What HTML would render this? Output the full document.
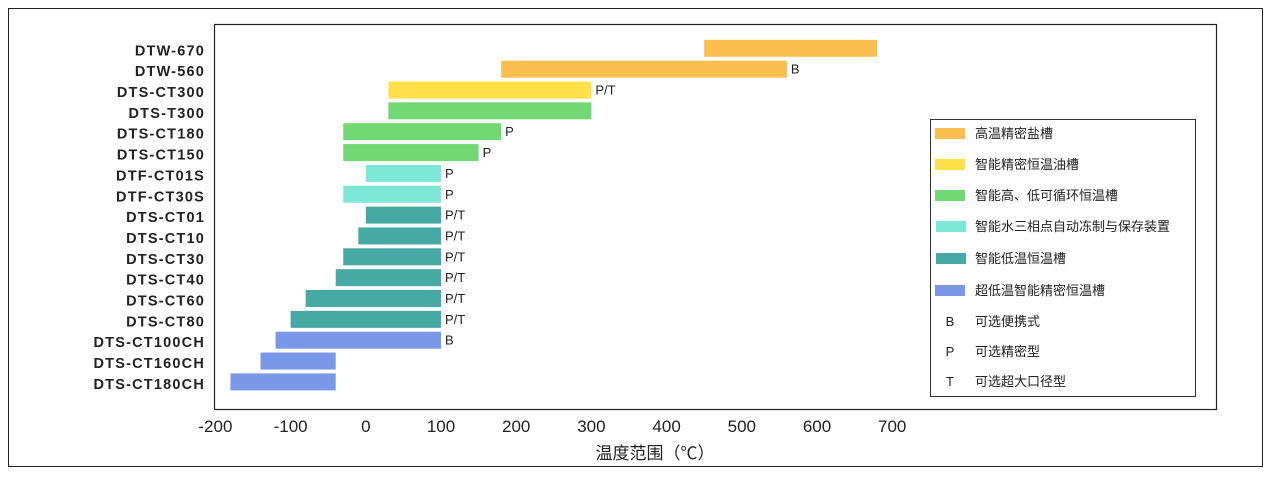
<!DOCTYPE html>
<html><head><meta charset="utf-8"><style>
body{margin:0;background:#fff;}
text{font-family:"Liberation Sans","Noto Sans CJK SC",sans-serif;}
</style></head><body>
<svg width="1271" height="475" xmlns="http://www.w3.org/2000/svg">
<rect x="8.5" y="8.5" width="1254" height="458" fill="none" stroke="#222" stroke-width="1"/>
<rect x="214.5" y="24.5" width="1002" height="385" fill="none" stroke="#222" stroke-width="1.2"/>
<g id="bars"></g>
<g font-size="14.5" font-weight="bold" fill="#222" text-anchor="end" letter-spacing="1.2" id="ylab"></g>
<g font-size="13" fill="#222" id="anno"></g>
<g font-size="17" fill="#222" text-anchor="middle" id="xt"></g>
<text x="655" y="459" font-size="17" text-anchor="middle" fill="#222">温度范围（℃）</text>
<rect x="930.5" y="119.5" width="265" height="277" fill="none" stroke="#333" stroke-width="1"/>
<g font-size="13" fill="#222">
<rect x="935" y="128" width="30" height="11" fill="#fbbf4f"/><text x="975" y="138">高温精密盐槽</text>
<rect x="935" y="159" width="30" height="11" fill="#fde04a"/><text x="975" y="169">智能精密恒温油槽</text>
<rect x="935" y="190" width="30" height="11" fill="#72d873"/><text x="975" y="200">智能高、低可循环恒温槽</text>
<rect x="936" y="221" width="30" height="11" fill="#7de8d8"/><text x="975" y="231">智能水三相点自动冻制与保存装置</text>
<rect x="936" y="253" width="30" height="11" fill="#46a9a4"/><text x="975" y="263">智能低温恒温槽</text>
<rect x="935" y="285" width="30" height="11" fill="#7b98e8"/><text x="975" y="295">超低温智能精密恒温槽</text>
<text x="950" y="326" text-anchor="middle">B</text><text x="975" y="326">可选便携式</text>
<text x="950" y="356" text-anchor="middle">P</text><text x="975" y="356">可选精密型</text>
<text x="950" y="386" text-anchor="middle">T</text><text x="975" y="386">可选超大口径型</text>
</g>
</svg>
<script>
const d=[["DTW-670",450,680,"#fbbf4f",""],["DTW-560",180,560,"#fbbf4f","B"],["DTS-CT300",30,300,"#fde04a","P/T"],["DTS-T300",30,300,"#72d873",""],["DTS-CT180",-30,180,"#72d873","P"],["DTS-CT150",-30,150,"#72d873","P"],["DTF-CT01S",0,100,"#7de8d8","P"],["DTF-CT30S",-30,100,"#7de8d8","P"],["DTS-CT01",0,100,"#46a9a4","P/T"],["DTS-CT10",-10,100,"#46a9a4","P/T"],["DTS-CT30",-30,100,"#46a9a4","P/T"],["DTS-CT40",-40,100,"#46a9a4","P/T"],["DTS-CT60",-80,100,"#46a9a4","P/T"],["DTS-CT80",-100,100,"#46a9a4","P/T"],["DTS-CT100CH",-120,100,"#7b98e8","B"],["DTS-CT160CH",-140,-40,"#7b98e8",""],["DTS-CT180CH",-180,-40,"#7b98e8",""]];
const X=v=>365.8+0.752*v,ns="http://www.w3.org/2000/svg";
function el(p,t,a,txt){const e=document.createElementNS(ns,t);for(const k in a)e.setAttribute(k,a[k]);if(txt)e.textContent=txt;document.getElementById(p).appendChild(e);}
d.forEach((r,i)=>{const c=48.3+i*20.85;
el("bars","rect",{x:X(r[1]),y:c-8.5,width:X(r[2])-X(r[1]),height:17,fill:r[3]});
el("ylab","text",{x:205,y:c+7},r[0]);
if(r[4])el("anno","text",{x:X(r[2])+4,y:c+4.5},r[4]);});
for(let v=-200;v<=700;v+=100)el("xt","text",{x:X(v),y:432},String(v));
</script>
</body></html>
